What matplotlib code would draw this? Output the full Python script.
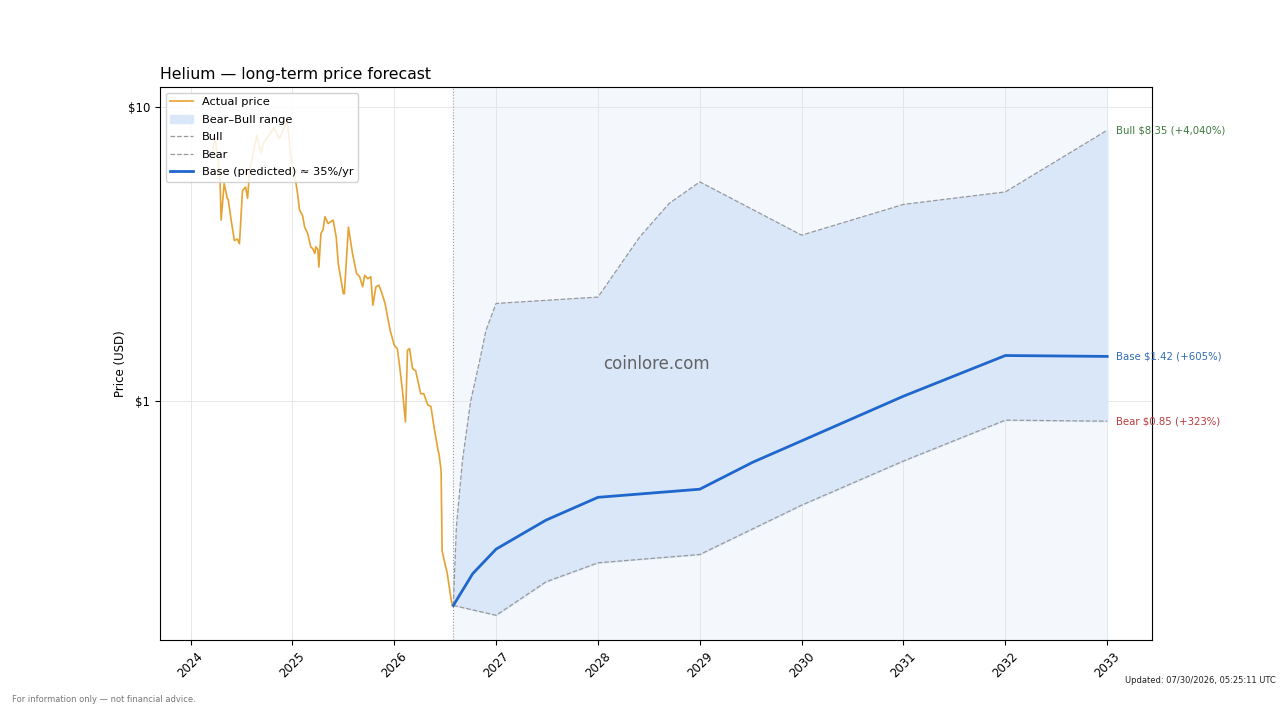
import matplotlib
matplotlib.use("Agg")
import matplotlib.pyplot as plt
import matplotlib.ticker as mticker
import numpy as np

# actual price history (decimal year, USD)
hist_t = [2024.21, 2024.24, 2024.27, 2024.29, 2024.30, 2024.33, 2024.36, 2024.37, 2024.40, 2024.43,
          2024.46, 2024.48, 2024.51, 2024.54, 2024.56, 2024.58, 2024.65, 2024.69, 2024.72, 2024.82,
          2024.87, 2024.95, 2024.98, 2025.00, 2025.03, 2025.05, 2025.07, 2025.10, 2025.12, 2025.15,
          2025.18, 2025.20, 2025.22, 2025.23, 2025.25, 2025.26, 2025.28, 2025.30, 2025.32, 2025.35,
          2025.40, 2025.43, 2025.45, 2025.50, 2025.51, 2025.55, 2025.59, 2025.63, 2025.66, 2025.69,
          2025.71, 2025.74, 2025.77, 2025.79, 2025.82, 2025.85, 2025.88, 2025.91, 2025.96, 2026.00,
          2026.03, 2026.05, 2026.08, 2026.11, 2026.13, 2026.15, 2026.18, 2026.21, 2026.26, 2026.29,
          2026.33, 2026.36, 2026.39, 2026.43, 2026.44, 2026.46, 2026.47, 2026.49, 2026.52, 2026.56,
          2026.57]
hist_p = [6.8, 7.9, 6.6, 5.6, 4.13, 5.5, 4.9, 4.85, 4.1, 3.52,
          3.56, 3.43, 5.2, 5.35, 4.9, 6.1, 8.0, 7.0, 7.6, 8.5,
          7.8, 9.0, 7.0, 6.3, 5.65, 5.1, 4.47, 4.28, 3.91, 3.72,
          3.35, 3.3, 3.18, 3.35, 3.28, 2.86, 3.72, 3.82, 4.24, 4.02,
          4.13, 3.62, 2.94, 2.32, 2.32, 3.91, 3.18, 2.72, 2.65, 2.45,
          2.68, 2.61, 2.65, 2.12, 2.45, 2.48, 2.32, 2.15, 1.74, 1.55,
          1.51, 1.34, 1.09, 0.85, 1.49, 1.51, 1.29, 1.27, 1.06, 1.06,
          0.97, 0.96, 0.82, 0.68, 0.66, 0.58, 0.31, 0.288, 0.26, 0.21,
          0.202]

# forecast scenarios (decimal year, USD)
bull_t = [2026.58, 2026.61, 2026.67, 2026.75, 2026.84, 2026.90, 2027.0, 2028.0, 2028.41,
          2028.70, 2029.0, 2030.0, 2031.0, 2032.0, 2033.0]
bull_p = [0.202, 0.374, 0.63, 1.0, 1.38, 1.74, 2.15, 2.26, 3.62,
          4.71, 5.57, 3.67, 4.67, 5.15, 8.35]
base_t = [2026.58, 2026.77, 2027.0, 2027.49, 2028.0, 2029.0, 2029.52, 2030.0, 2031.0,
          2032.0, 2033.0]
base_p = [0.202, 0.259, 0.314, 0.394, 0.471, 0.502, 0.62, 0.733, 1.04,
          1.43, 1.42]
bear_t = [2026.58, 2027.0, 2027.49, 2028.0, 2029.0, 2030.0, 2031.0, 2032.0, 2033.0]
bear_p = [0.202, 0.187, 0.243, 0.282, 0.301, 0.443, 0.626, 0.862, 0.855]

year_ticks = [2024, 2025, 2026, 2027, 2028, 2029, 2030, 2031, 2032, 2033]
forecast_start = 2026.58
end_labels = ["Bull $8.35 (+4,040%)", "Base $1.42 (+605%)", "Bear $0.85 (+323%)"]

plt.rcParams["font.size"] = 8.5

fig, ax = plt.subplots(figsize=(12.8, 7.2), dpi=100)
fig.subplots_adjust(left=0.125, right=0.9, bottom=0.111, top=0.879)

# forecast background and range
ax.axvspan(forecast_start, 2033, color="#f4f8fd", zorder=0)
ax.axvline(forecast_start, color="#999999", lw=0.8, ls=":", zorder=1)

# range fill between bear and bull, on the union of their dates
band_t = sorted(set(bull_t) | set(bear_t))
lo = np.interp(band_t, bear_t, bear_p)
hi = np.interp(band_t, bull_t, bull_p)
rng = ax.fill_between(band_t, lo, hi, color="#dae7f8", zorder=1, label="Bear\u2013Bull range")

l_act, = ax.plot(hist_t, hist_p, color="#e6a230", lw=1.2, zorder=3, label="Actual price")
l_bull, = ax.plot(bull_t, bull_p, color="#999999", lw=0.9, ls="--", zorder=2, label="Bull")
l_bear, = ax.plot(bear_t, bear_p, color="#999999", lw=0.9, ls="--", zorder=2, label="Bear")
l_base, = ax.plot(base_t, base_p, color="#1f67cc", lw=2.0, zorder=4,
                  label="Base (predicted) \u2248 35%/yr")

ax.set_yscale("log")
ax.set_ylim(0.154, 11.7)
ax.set_xlim(2023.70, 2033.44)
ax.yaxis.set_major_locator(mticker.FixedLocator([1, 10]))
ax.yaxis.set_minor_locator(mticker.NullLocator())
ax.yaxis.set_major_formatter(mticker.FuncFormatter(lambda v, p: f"${v:g}"))
ax.set_xticks(year_ticks)
ax.set_xticklabels([str(y) for y in year_ticks], rotation=45)
ax.grid(True, color="#e6e6e6", lw=0.7)
ax.set_axisbelow(True)

ax.set_title("Helium \u2014 long-term price forecast", loc="left", fontsize=11.3)
ax.set_ylabel("Price (USD)", fontsize=8.5, labelpad=1)

# end labels
colors = ["#3d7a3d", "#2f6cb8", "#b83a3a"]
ends = [bull_p[-1], base_p[-1], bear_p[-1]]
for txt, val, c in zip(end_labels, ends, colors):
    ax.annotate(txt, xy=(2033, val), xytext=(6, 0), textcoords="offset points",
                color=c, fontsize=7.3, va="center", ha="left", annotation_clip=False)

ax.text(0.5, 0.5, "coinlore.com", transform=ax.transAxes, fontsize=12,
        color="#555555", alpha=0.9, ha="center", va="center")

handles = [l_act, rng, l_bull, l_bear, l_base]
ax.legend(handles, [h.get_label() for h in handles],
          loc="upper left", fontsize=8.2, labelspacing=0.65, framealpha=0.85)

fig.text(0.009, 0.025, "For information only \u2014 not financial advice.",
         fontsize=6, color="#777777")
fig.text(0.997, 0.052, "Updated: 07/30/2026, 05:25:11 UTC", fontsize=6,
         ha="right", color="#222222")

fig.savefig("out.png", dpi=100)
